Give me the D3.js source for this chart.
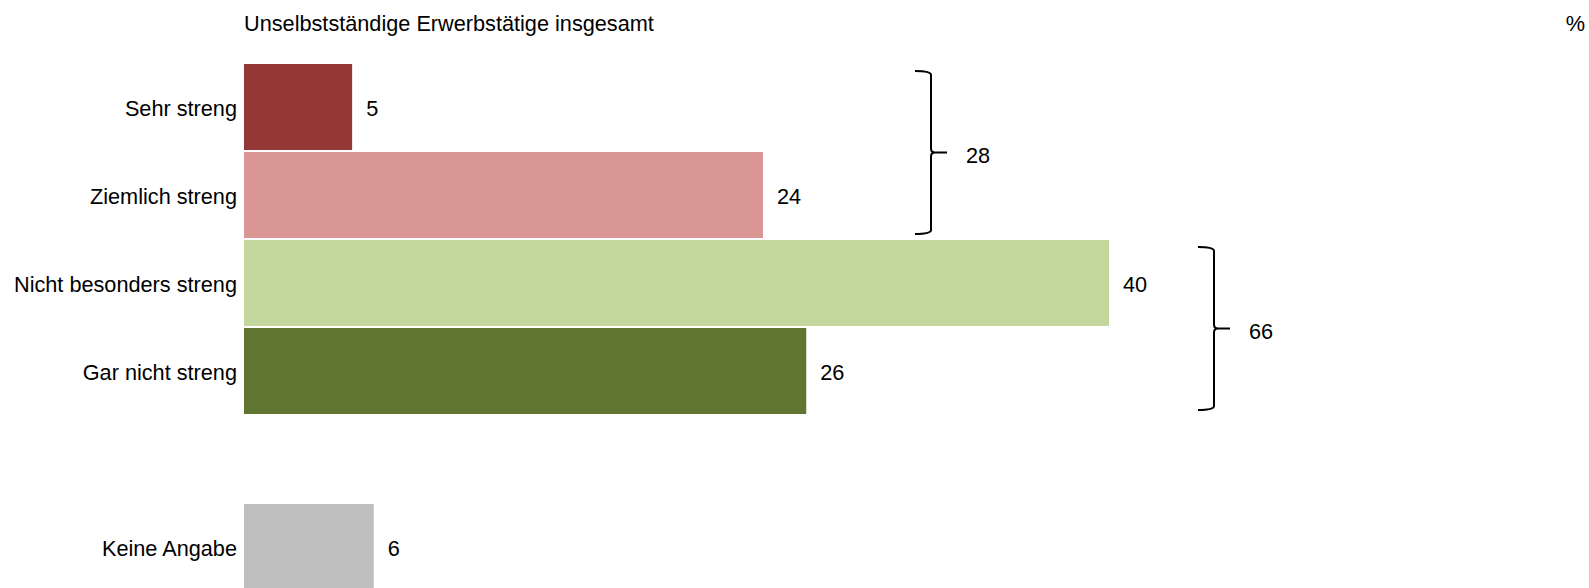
<!DOCTYPE html>
<html>
<head>
<meta charset="utf-8">
<title>Unselbstständige Erwerbstätige</title>
<script src="https://cdn.jsdelivr.net/npm/d3@7"></script>
<style>
  body { margin: 0; background: #fff; }
  text { font-family: "Liberation Sans", Arial, sans-serif; fill: #000; }
</style>
</head>
<body>
<svg id="chart" width="1589" height="588"></svg>
<script>
// data
var categories = ["Sehr streng", "Ziemlich streng", "Nicht besonders streng", "Gar nicht streng", "", "Keine Angabe"];
var values = [5, 24, 40, 26, null, 6];
var barColors = ["#953735", "#D99694", "#C3D69B", "#5F7530", null, "#BFBFBF"];
var groupFrom = [0, 2];
var groupTo = [1, 3];
var groupSums = [28, 66];
var title = "Unselbstständige Erwerbstätige insgesamt";
var unit = "%";

var svg = d3.select("#chart");
var fs = 21.7;

// scales
var x = d3.scaleLinear().domain([0, 40]).range([244, 1109]);
var y = d3.scaleBand().domain(d3.range(categories.length)).range([64, 590]).paddingInner(2 / 88);

// title + unit
svg.append("text")
  .attr("x", 244).attr("y", 31)
  .style("font-size", fs + "px")
  .text(title);

svg.append("text")
  .attr("x", 1585).attr("y", 31)
  .attr("text-anchor", "end")
  .style("font-size", fs + "px")
  .text(unit);

var rows = d3.range(categories.length).filter(function(i){ return values[i] != null; });

// bars
svg.selectAll("rect.bar")
  .data(rows)
  .enter().append("rect")
  .attr("class", "bar")
  .attr("x", x(0))
  .attr("y", function(i){ return y(i); })
  .attr("width", function(i){ return x(values[i]) - x(0); })
  .attr("height", y.bandwidth())
  .attr("fill", function(i){ return barColors[i]; });

// category labels
svg.selectAll("text.cat")
  .data(rows)
  .enter().append("text")
  .attr("class", "cat")
  .attr("x", 237)
  .attr("y", function(i){ return y(i) + y.bandwidth() / 2 + 1; })
  .attr("dy", "0.35em")
  .attr("text-anchor", "end")
  .style("font-size", fs + "px")
  .text(function(i){ return categories[i]; });

// value labels
svg.selectAll("text.val")
  .data(rows)
  .enter().append("text")
  .attr("class", "val")
  .attr("x", function(i){ return x(values[i]) + 14; })
  .attr("y", function(i){ return y(i) + y.bandwidth() / 2 + 1; })
  .attr("dy", "0.35em")
  .style("font-size", fs + "px")
  .text(function(i){ return values[i]; });

// brackets
var bracketX = [931, 1214];
groupSums.forEach(function(s, g){
  var bx = bracketX[g];
  var top = y(groupFrom[g]) + 7;
  var bot = y(groupTo[g]) + y.bandwidth() - 4;
  var mid = (top + bot) / 2;
  var p = d3.path();
  p.moveTo(bx - 16, top);
  p.quadraticCurveTo(bx, top, bx, top + 4);
  p.lineTo(bx, mid - 4);
  p.quadraticCurveTo(bx, mid, bx + 4, mid);
  p.lineTo(bx + 16, mid);
  p.moveTo(bx + 4, mid);
  p.quadraticCurveTo(bx, mid, bx, mid + 4);
  p.lineTo(bx, bot - 4);
  p.quadraticCurveTo(bx, bot, bx - 16, bot);
  svg.append("path")
    .attr("d", p.toString())
    .attr("fill", "none")
    .attr("stroke", "#000")
    .attr("stroke-width", 2);
  svg.append("text")
    .attr("x", bx + 35)
    .attr("y", mid + 3)
    .attr("dy", "0.35em")
    .style("font-size", fs + "px")
    .text(s);
});
</script>
</body>
</html>
